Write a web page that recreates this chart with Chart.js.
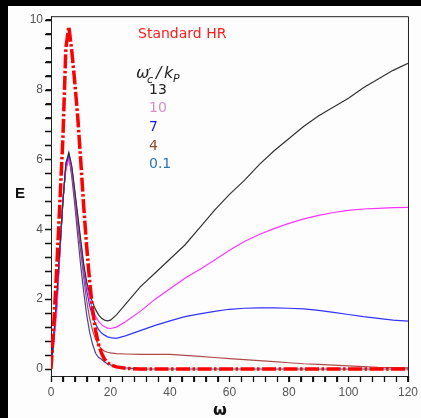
<!DOCTYPE html>
<html>
<head>
<meta charset="utf-8">
<script src="https://cdn.jsdelivr.net/npm/chart.js@4.4.1/dist/chart.umd.min.js"></script>
<style>
  html, body { margin: 0; padding: 0; background: #000; }
  #wrap { position: absolute; left: 8px; top: 6px; width: 413px; height: 412px; background: #fcfdfc; }
</style>
</head>
<body>
<div id="wrap"><canvas id="chart"></canvas></div>
<script>
// omega grid shared by all curves
const omega = [0,1,2,3,4,5,6,7,8,9,10,11,12,13,14,15,16,17,18,19,20,22,25,30,35,40,45,50,55,60,65,70,75,80,85,90,95,100,105,110,115,120];

const stdHR = [0,1.4,3.0,4.8,6.6,9.2,9.8,9.1,8.2,7.2,5.95,4.65,3.5,2.5,1.7,1.1,0.7,0.45,0.28,0.18,0.12,0.06,0.02,0,0,0,0,0,0,0,0,0,0,0,0,0,0,0,0,0,0,0];
const e13 = [0,1.0,2.2,3.5,4.8,5.9,6.2,5.8,5.1,4.4,3.7,3.0,2.5,2.15,1.9,1.7,1.55,1.45,1.4,1.38,1.4,1.55,1.85,2.35,2.75,3.15,3.55,4.05,4.55,5.0,5.4,5.85,6.25,6.6,6.95,7.25,7.5,7.75,8.05,8.3,8.55,8.75];
const e10 = [0,0.8,1.7,3.3,4.9,5.7,6.0,5.7,5.0,4.3,3.6,2.95,2.4,2.0,1.7,1.5,1.36,1.27,1.21,1.17,1.16,1.2,1.35,1.65,2.0,2.3,2.6,2.85,3.12,3.4,3.65,3.85,4.02,4.17,4.3,4.4,4.48,4.54,4.58,4.6,4.62,4.63];
const e7 = [0,0.9,2.0,3.4,4.8,5.8,6.15,5.75,5.05,4.3,3.55,2.85,2.25,1.8,1.5,1.28,1.13,1.03,0.97,0.92,0.9,0.88,0.95,1.1,1.25,1.38,1.5,1.58,1.65,1.71,1.74,1.75,1.75,1.74,1.72,1.68,1.62,1.56,1.5,1.45,1.4,1.37];
const e4 = [0,0.9,2.0,3.4,4.8,5.8,6.05,5.6,4.9,4.1,3.35,2.6,1.95,1.45,1.1,0.85,0.68,0.57,0.51,0.48,0.46,0.44,0.43,0.42,0.42,0.42,0.39,0.36,0.33,0.3,0.27,0.24,0.21,0.18,0.15,0.13,0.11,0.09,0.07,0.05,0.04,0.03];
const e01 = [0,0.9,2.0,3.4,4.8,5.8,6.1,5.5,4.7,3.8,2.95,2.2,1.55,1.05,0.7,0.45,0.33,0.28,0.2,0.15,0.12,0.07,0.03,0,0,0,0,0,0,0,0,0,0,0,0,0,0,0,0,0,0,0];

const seriesNames = ['13', '10', '7', '4', '0.1'];
const xTickLabels = [0, 20, 40, 60, 80, 100, 120];
const yTickLabels = [0, 2, 4, 6, 8, 10];

const pts = arr => arr.map((v, i) => ({ x: omega[i], y: v }));

const thin = (data, color) => ({
    data: pts(data), borderColor: color, borderWidth: 1.2,
    pointRadius: 0, tension: 0, fill: false
});

const annotations = {
    id: 'annotations',
    afterDraw(chart) {
        const ctx = chart.ctx;
        const a = chart.chartArea;
        ctx.save();
        ctx.setLineDash([]);
        // top and right frame
        ctx.strokeStyle = '#222';
        ctx.lineWidth = 1;
        ctx.beginPath();
        ctx.moveTo(a.left, a.top + 0.5);
        ctx.lineTo(a.right + 0.5, a.top + 0.5);
        ctx.lineTo(a.right + 0.5, a.bottom);
        ctx.stroke();

        // outward tick marks on the left and bottom axes
        const xs = chart.scales.x, ys = chart.scales.y;
        ctx.strokeStyle = '#111';
        ctx.lineWidth = 1.3;
        ctx.beginPath();
        xs.ticks.forEach(t => {
            const px = Math.round(xs.getPixelForValue(t.value)) + 0.5;
            ctx.moveTo(px, a.bottom);
            ctx.lineTo(px, a.bottom + 6);
        });
        ys.ticks.forEach(t => {
            const py = Math.round(ys.getPixelForValue(t.value)) + 0.5;
            ctx.moveTo(a.left, py);
            ctx.lineTo(a.left - 6, py);
        });
        ctx.stroke();

        ctx.textBaseline = 'middle';
        ctx.textAlign = 'left';
        ctx.fillStyle = '#ff1a1a';
        ctx.font = '14px "DejaVu Sans"';
        ctx.fillText('Standard HR', 130, 28);

        // omega'_c / k_P
        ctx.fillStyle = '#222';
        ctx.textBaseline = 'alphabetic';
        ctx.font = 'italic 16px "DejaVu Sans"';
        ctx.fillText('ω', 128, 72);
        ctx.font = 'italic 14px "DejaVu Sans"';
        ctx.fillText('\u2032', 140, 72);
        ctx.font = 'italic 11px "DejaVu Sans"';
        ctx.fillText('c', 139, 77);
        ctx.font = 'italic 16px "DejaVu Sans"';
        ctx.fillText('/', 148, 72);
        ctx.fillText('k', 156, 72);
        ctx.font = 'italic 11px "DejaVu Sans"';
        ctx.fillText('P', 165, 76);

        const labColors = ['#222222', '#d890c8', '#1a1aff', '#8b4a30', '#2a78b0'];
        const labY = [84, 102, 121, 140, 158];
        ctx.textBaseline = 'middle';
        ctx.font = '14px "DejaVu Sans"';
        seriesNames.forEach((n, i) => {
            ctx.fillStyle = labColors[i];
            ctx.fillText(n, 141, labY[i]);
        });

        // axis titles
        ctx.fillStyle = '#111';
        ctx.font = 'bold 15px "Liberation Sans"';
        ctx.fillText('E', 7, 188);
        ctx.textAlign = 'center';
        ctx.font = 'bold 16px "DejaVu Sans"';
        ctx.fillText('ω', 212, 405);
        ctx.restore();
    }
};

new Chart(document.getElementById('chart'), {
    type: 'line',
    data: {
        datasets: [
            {
                data: pts(stdHR), borderColor: '#ff0000', borderWidth: 3.5,
                borderDash: [14, 2.5, 2.5, 2.5], pointRadius: 0, tension: 0, fill: false
            },
            thin(e13, '#333333'),
            thin(e10, '#ff33ff'),
            thin(e7, '#3333ff'),
            thin(e4, '#b04a4a'),
            thin(e01, '#4646a0')
        ]
    },
    options: {
        responsive: true,
        maintainAspectRatio: false,
        animation: false,
        layout: { padding: { top: 10, right: 11, left: 0, bottom: 0 } },
        plugins: { legend: { display: false }, tooltip: { enabled: false } },
        scales: {
            x: {
                type: 'linear', min: 0, max: 120,
                afterFit: s => { s.height = 42; },
                afterBuildTicks: s => {
                    s.ticks = [];
                    for (let v = 0; v <= 120; v += 4) s.ticks.push({ value: v });
                },
                grid: { drawOnChartArea: false, tickLength: 6, color: '#222' },
                border: { color: '#222' },
                ticks: {
                    autoSkip: false, maxRotation: 0, padding: 3, color: '#555',
                    font: { family: 'Liberation Sans', size: 12 },
                    callback: v => xTickLabels.includes(v) ? String(v) : ''
                }
            },
            y: {
                type: 'linear', min: -0.2, max: 10.1,
                afterFit: s => { s.width = 43; },
                afterBuildTicks: s => {
                    s.ticks = [];
                    for (let i = 0; i <= 25; i++) s.ticks.push({ value: Math.round(i * 4) / 10 });
                },
                grid: { drawOnChartArea: false, tickLength: 5, color: '#222' },
                border: { color: '#222' },
                ticks: {
                    autoSkip: false, padding: 3, color: '#555',
                    font: { family: 'Liberation Sans', size: 12 },
                    callback: v => yTickLabels.includes(v) ? String(v) : ''
                }
            }
        }
    },
    plugins: [annotations]
});
</script>
</body>
</html>
